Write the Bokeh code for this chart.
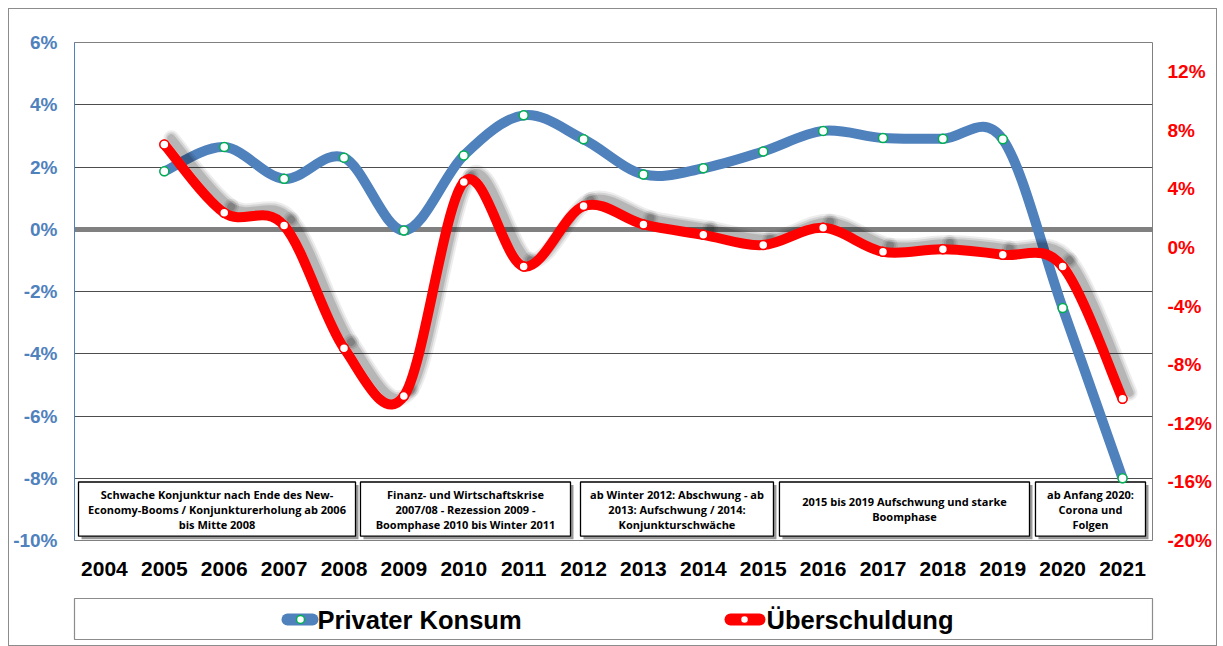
from bokeh.plotting import figure
from bokeh.models import (Range1d, LinearAxis, FixedTicker, PrintfTickFormatter,
                          ColumnDataSource)
from bokeh.layouts import column
from bokeh.core.properties import value
from bokeh.embed import file_html
from bokeh.resources import INLINE

# ---------------- data ----------------
years = [str(y) for y in range(2004, 2022)]
data_years = [str(y) for y in range(2005, 2022)]
privater_konsum = [1.86, 2.64, 1.62, 2.30, -0.04, 2.37, 3.66, 2.89, 1.76, 1.96,
                   2.50, 3.16, 2.93, 2.91, 2.89, -2.53, -8.00]
ueberschuldung = [7.04, 2.37, 1.50, -6.87, -10.14, 4.47, -1.29, 2.83, 1.58, 0.87,
                  0.17, 1.35, -0.29, -0.11, -0.49, -1.29, -10.33]
left_ticks = [-10, -8, -6, -4, -2, 0, 2, 4, 6]
right_ticks = [-20, -16, -12, -8, -4, 0, 4, 8, 12]
phase_texts = [
    "Schwache Konjunktur nach Ende des New-\nEconomy-Booms / Konjunkturerholung ab 2006\nbis Mitte 2008",
    "Finanz- und Wirtschaftskrise\n2007/08 - Rezession 2009 -\nBoomphase 2010 bis Winter 2011",
    "ab Winter 2012: Abschwung - ab\n2013: Aufschwung / 2014:\nKonjunkturschwäche",
    "2015 bis 2019 Aufschwung und starke\nBoomphase",
    "ab Anfang 2020:\nCorona und\nFolgen",
]
series_names = ["Privater Konsum", "Überschuldung"]

# layout of the phase boxes (x in category units, y on left axis)
box_left = [-0.433, 4.275, 7.949, 11.271, 15.546]
box_right = [4.192, 7.782, 11.171, 15.446, 17.383]
box_top, box_bottom = -8.12, -9.86

BLUE = "#4F81BD"
RED = "#FF0000"
GREEN = "#00B050"
FONT = "Liberation Sans"

xs = [years.index(y) for y in data_years]


def bezier_source(x, y, dx=0.0, dy=0.0):
    n = len(x)
    d = dict(x0=[], y0=[], x1=[], y1=[], cx0=[], cy0=[], cx1=[], cy1=[])
    for i in range(n - 1):
        a = i - 1 if i > 0 else i
        b = i + 2 if i + 2 < n else i + 1
        d["x0"].append(x[i] + dx)
        d["y0"].append(y[i] + dy)
        d["x1"].append(x[i + 1] + dx)
        d["y1"].append(y[i + 1] + dy)
        d["cx0"].append(x[i] + (x[i + 1] - x[a]) / 6 + dx)
        d["cy0"].append(y[i] + (y[i + 1] - y[a]) / 6 + dy)
        d["cx1"].append(x[i + 1] - (x[b] - x[i]) / 6 + dx)
        d["cy1"].append(y[i + 1] - (y[b] - y[i]) / 6 + dy)
    return ColumnDataSource(d)


p = figure(width=1207, height=580, output_backend="svg", toolbar_location=None,
           x_range=Range1d(-0.5, 17.5), y_range=Range1d(-10, 6),
           min_border_left=65, min_border_right=64, min_border_top=33,
           min_border_bottom=49, background_fill_color="white",
           border_fill_color="white")
p.extra_y_ranges = {"right": Range1d(-20, 14)}
p.outline_line_color = "#808080"
p.outline_line_width = 1

# grid
p.xgrid.visible = False
p.ygrid.ticker = FixedTicker(ticks=left_ticks)
p.ygrid.grid_line_color = "#4d4d4d"
p.ygrid.grid_line_width = 1

# left axis
p.yaxis.ticker = FixedTicker(ticks=left_ticks)
p.yaxis.formatter = PrintfTickFormatter(format="%d%%")
p.yaxis.axis_line_color = BLUE
p.yaxis.major_tick_line_color = None
p.yaxis.minor_tick_line_color = None
p.yaxis.major_label_text_color = BLUE
p.yaxis.major_label_text_font = FONT
p.yaxis.major_label_text_font_style = "bold"
p.yaxis.major_label_text_font_size = "19px"
p.yaxis.major_label_standoff = 11

# right axis
ra = LinearAxis(y_range_name="right", ticker=FixedTicker(ticks=right_ticks),
                formatter=PrintfTickFormatter(format="%d%%"))
ra.axis_line_color = None
ra.major_tick_line_color = None
ra.minor_tick_line_color = None
ra.major_label_text_color = RED
ra.major_label_text_font = FONT
ra.major_label_text_font_style = "bold"
ra.major_label_text_font_size = "19px"
ra.major_label_standoff = 9
p.add_layout(ra, "right")

# bottom axis
p.xaxis.ticker = FixedTicker(ticks=list(range(len(years))))
p.xaxis.major_label_overrides = {i: y for i, y in enumerate(years)}
p.xaxis.axis_line_color = None
p.xaxis.major_tick_line_color = None
p.xaxis.minor_tick_line_color = None
p.xaxis.major_label_text_color = "black"
p.xaxis.major_label_text_font = FONT
p.xaxis.major_label_text_font_style = "bold"
p.xaxis.major_label_text_font_size = "21px"
p.xaxis.major_label_standoff = 15

# zero line
p.hspan(y=[0], line_color="#808080", line_width=5)

# phase boxes with shadow
box_src = ColumnDataSource(dict(
    left=box_left, right=box_right,
    top=[box_top] * len(box_left), bottom=[box_bottom] * len(box_left),
    sl=[v + 0.05 for v in box_left], sr=[v + 0.05 for v in box_right],
    st=[box_top - 0.1] * len(box_left), sb=[box_bottom - 0.1] * len(box_left),
    cx=[(a + b) / 2 for a, b in zip(box_left, box_right)],
    cy=[(box_top + box_bottom) / 2] * len(box_left),
    text=phase_texts))
p.quad(left="sl", right="sr", top="st", bottom="sb", source=box_src,
       fill_color="#7f7f7f", line_color=None, fill_alpha=0.8)
p.quad(left="left", right="right", top="top", bottom="bottom", source=box_src,
       fill_color="white", line_color="black", line_width=1.3)
p.text(x="cx", y="cy", text="text", source=box_src,
       text_font=value("Open Sans"), text_font_style="bold",
       text_font_size="11px", text_color="black", text_align="center",
       text_baseline="middle", text_line_height=1.0)

# blue series
p.bezier(x0="x0", y0="y0", x1="x1", y1="y1", cx0="cx0", cy0="cy0",
         cx1="cx1", cy1="cy1", source=bezier_source(xs, privater_konsum),
         line_color=BLUE, line_width=10, line_cap="round")
p.scatter(xs, privater_konsum, size=9, marker="circle", fill_color="white",
          line_color=GREEN, line_width=1.5)

# red series shadow
shadow_src = bezier_source(xs, ueberschuldung, dx=0.117, dy=0.42)
for w, a in [(16, 0.07), (12, 0.10), (8, 0.14)]:
    p.bezier(x0="x0", y0="y0", x1="x1", y1="y1", cx0="cx0", cy0="cy0",
             cx1="cx1", cy1="cy1", source=shadow_src,
             line_color="black", line_alpha=a, line_width=w, line_cap="round",
             y_range_name="right")
p.bezier(x0="x0", y0="y0", x1="x1", y1="y1", cx0="cx0", cy0="cy0",
         cx1="cx1", cy1="cy1", source=bezier_source(xs, ueberschuldung),
         line_color=RED, line_width=10, line_cap="round", y_range_name="right")
p.scatter(xs, ueberschuldung, size=9, marker="circle", fill_color="white",
          line_color=RED, line_width=1.5, y_range_name="right")

# ---------------- legend strip (coordinates = page pixels) ----------------
lg = figure(width=1207, height=56, output_backend="svg", toolbar_location=None,
            x_range=Range1d(74, 1152), y_range=Range1d(639, 598),
            x_axis_location=None, y_axis_location=None,
            min_border_left=65, min_border_right=64, min_border_top=9,
            min_border_bottom=6, background_fill_color="white",
            border_fill_color="white")
lg.grid.visible = False
lg.outline_line_color = "#8c8c8c"
lg.outline_line_width = 1.2
lg.segment(x0=[287, 730], y0=[619, 619], x1=[312, 759], y1=[619, 619],
           line_color=[BLUE, RED], line_width=12, line_cap="round")
lg.scatter(x=[300, 744], y=[619, 619], size=8, marker="circle",
           fill_color="white", line_color=[GREEN, RED], line_width=1.5)
lg.text(x=[317, 766], y=[619, 619], text=series_names,
        text_font=value(FONT), text_font_style="bold", text_font_size="25.5px",
        text_color="black", text_align="left", text_baseline="middle")

layout = column(p, lg, spacing=0,
                styles={"border": "1px solid #8c8c8c", "margin-left": "8px",
                        "margin-top": "8px"})

open("out.html", "w").write(file_html(layout, INLINE))
